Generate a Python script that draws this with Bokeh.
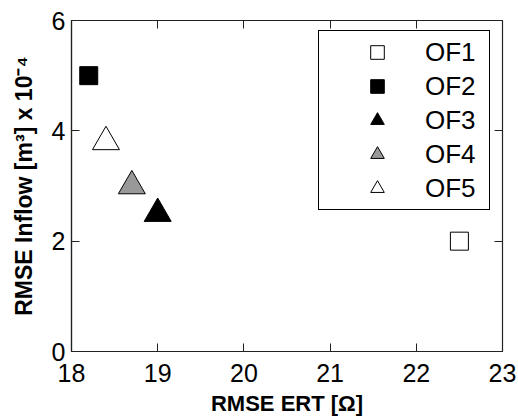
from bokeh.plotting import figure
from bokeh.models import (LinearAxis, Legend, LegendItem, FixedTicker, Range1d,
                          CustomJSTickFormatter)
from bokeh.embed import file_html
from bokeh.resources import INLINE

# ---- data ----
names = ["OF1", "OF2", "OF3", "OF4", "OF5"]
rmse_ert = [22.5, 18.2, 19.0, 18.7, 18.4]
rmse_inflow = [2.0, 5.0, 2.5, 3.0, 3.8]
x_ticks = [18, 19, 20, 21, 22, 23]
y_ticks = [0, 2, 4, 6]

# ---- styles ----
markers = ["square", "square", "triangle", "triangle", "triangle"]
fills = ["white", "black", "black", "#999999", "white"]
sizes = [18, 18, 27, 27, 27]

FONT = "Liberation Sans"

p = figure(width=518, height=420, output_backend="svg", toolbar_location=None,
           x_range=Range1d(18, 23), y_range=Range1d(0, 6),
           x_axis_label="RMSE ERT [Ω]",
           y_axis_label="RMSE Inflow [m³] x 10⁻⁴",
           min_border_left=71, min_border_right=16,
           min_border_top=20, min_border_bottom=69)
p.background_fill_color = "white"
p.border_fill_color = "white"
p.outline_line_color = "#222222"
p.outline_line_width = 1.2
p.xgrid.visible = False
p.ygrid.visible = False

for ax, ticks in ((p.xaxis[0], x_ticks), (p.yaxis[0], y_ticks)):
    ax.ticker = FixedTicker(ticks=ticks)
    ax.major_tick_in = 8
    ax.major_tick_out = 0
    ax.minor_tick_line_color = None
    ax.axis_line_color = "#222222"
    ax.axis_line_width = 1.2
    ax.major_tick_line_color = "#222222"
    ax.major_label_text_font = FONT
    ax.major_label_text_font_size = "25px"
    ax.major_label_text_color = "black"
    ax.axis_label_text_font = FONT
    ax.axis_label_text_font_style = "bold"
    ax.axis_label_text_font_size = "22px"
    ax.axis_label_text_color = "black"

p.yaxis.axis_label_text_font_size = "23px"
p.xaxis.major_label_standoff = 12
p.xaxis.axis_label_standoff = 6
p.yaxis.major_label_standoff = 6
p.yaxis.axis_label_standoff = 12

# mirrored ticks on top and right
blank = CustomJSTickFormatter(code="return ''")
for loc, ticks in (("above", x_ticks), ("right", y_ticks)):
    a = LinearAxis(ticker=FixedTicker(ticks=ticks), major_tick_in=8, major_tick_out=0,
                   minor_tick_line_color=None, axis_line_color=None,
                   major_tick_line_color="#222222", formatter=blank,
                   major_label_standoff=0)
    p.add_layout(a, loc)

items = []
for i in range(len(names)):
    r = p.scatter(x=[rmse_ert[i]], y=[rmse_inflow[i]], marker=markers[i],
                  size=sizes[i], fill_color=fills[i], line_color="black", line_width=1)
    items.append(LegendItem(label=names[i], renderers=[r]))

legend = Legend(items=items, location=(247, 141),
                glyph_height=34, glyph_width=34, spacing=0,
                padding=dict(left=41, right=13, top=4, bottom=4),
                label_standoff=31, label_width=50, label_height=34,
                label_text_font=FONT, label_text_font_size="26px",
                label_text_color="black",
                border_line_color="black", border_line_width=1, border_line_alpha=1,
                background_fill_color="white", background_fill_alpha=1)
p.add_layout(legend)

open("out.html", "w").write(file_html(p, INLINE))
